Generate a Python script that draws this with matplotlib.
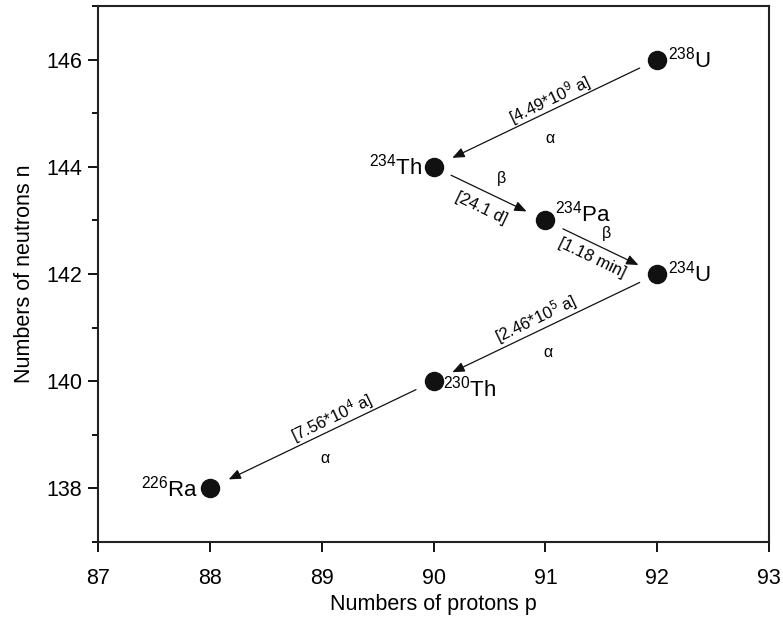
import matplotlib
import numpy as np
from matplotlib import pyplot as plt
from matplotlib.ticker import MultipleLocator

matplotlib.rc("font", family="Liberation Sans", size=15)
matplotlib.rc("mathtext", fontset="custom", rm="Liberation Sans", it="Liberation Sans:italic")

# nuclides of the chain
nuclides = ["$^{238}$U", "$^{234}$Th", "$^{234}$Pa", "$^{234}$U", "$^{230}$Th", "$^{226}$Ra"]
protons = [92, 90, 91, 92, 90, 88]
neutrons = [146, 144, 143, 142, 140, 138]

# decays: parent index -> daughter index
decay_from = [0, 1, 2, 3, 4]
decay_to = [1, 2, 3, 4, 5]
decay_type = ["α", "β", "β", "α", "α"]
half_lives = ["[4.49*10$^{9}$ a]", "[24.1 d]", "[1.18 min]", "[2.46*10$^{5}$ a]", "[7.56*10$^{4}$ a]"]

fig = plt.figure(figsize=(7.83, 6.22), dpi=100)
ax = fig.add_axes([0.1252, 0.1286, 0.857, 0.8617])

ax.plot(protons, neutrons, "o", color="#111111", markersize=13, zorder=3)

ax.set_xlim(87, 93)
ax.set_ylim(137, 147)
ax.xaxis.set_major_locator(MultipleLocator(1))
ax.yaxis.set_major_locator(MultipleLocator(2))
ax.yaxis.set_minor_locator(MultipleLocator(1))
ax.tick_params(which="major", direction="out", length=7.5, width=1.3, labelsize=15.5, pad=4)
ax.tick_params(axis="x", which="major", pad=11)
ax.tick_params(which="minor", direction="out", length=4.5, width=1.3)
ax.tick_params(axis="x", which="minor", bottom=False)
for s in ax.spines.values():
    s.set_linewidth(1.5)
    s.set_color("#222222")

ax.set_xlabel("Numbers of protons p", fontsize=15.5, labelpad=4)
ax.set_ylabel("Numbers of neutrons n", fontsize=15.5, labelpad=8)

# nuclide labels (offset in points, alignment)
lab_off = [(8, 0), (-8, 0), (7, 5), (8, 0), (7, -5), (-8, 0)]
lab_ha = ["left", "right", "left", "left", "left", "right"]
for i, name in enumerate(nuclides):
    ax.annotate(name, (protons[i], neutrons[i]), xytext=lab_off[i], textcoords="offset points",
                ha=lab_ha[i], va="center", fontsize=16)

# decay arrows and labels
hl_off = [(3, 9.5), (-6, -10.5), (-7, -7.5), (-7, 6.5), (7, 12.5)]
ty_off = [(3, -18), (9, 11), (4, 10), (2, -18), (2, -17)]
for k in range(len(decay_from)):
    i, j = decay_from[k], decay_to[k]
    ax.annotate("", xy=(protons[j], neutrons[j]), xytext=(protons[i], neutrons[i]),
                arrowprops=dict(arrowstyle="-|>,head_length=0.6,head_width=0.25", color="#111111",
                                lw=0.9, shrinkA=14, shrinkB=15, mutation_scale=12))
    mx = (protons[i] + protons[j]) / 2
    my = (neutrons[i] + neutrons[j]) / 2
    p1 = ax.transData.transform((protons[i], neutrons[i]))
    p2 = ax.transData.transform((protons[j], neutrons[j]))
    ang = np.degrees(np.arctan2(p2[1] - p1[1], p2[0] - p1[0]))
    if ang > 90:
        ang -= 180
    elif ang < -90:
        ang += 180
    ax.annotate(half_lives[k], (mx, my), xytext=hl_off[k], textcoords="offset points",
                ha="center", va="center", rotation=ang, rotation_mode="anchor", fontsize=12)
    ax.annotate(decay_type[k], (mx, my), xytext=ty_off[k], textcoords="offset points",
                ha="center", va="center", fontsize=11.5)

fig.savefig("out.png", dpi=100)
